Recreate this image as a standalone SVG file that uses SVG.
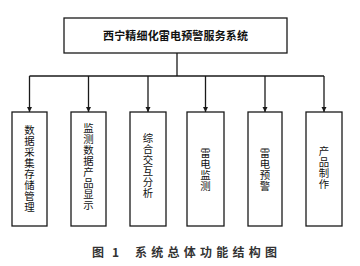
<svg xmlns="http://www.w3.org/2000/svg" width="360" height="266" viewBox="0 0 360 266">
<style>
.box{fill:#fff;stroke:#1a1a1a;stroke-width:1.3}
.ln{fill:none;stroke:#1a1a1a;stroke-width:1.3}
.t{font-family:"Noto Sans CJK SC","Noto Sans CJK JP",sans-serif;font-size:11px;fill:#111}
.v{writing-mode:vertical-rl;text-orientation:upright;text-anchor:middle;font-size:10.4px;letter-spacing:0.6px}
.cap{font-family:"Noto Sans CJK SC",sans-serif;font-size:12px;font-weight:bold;fill:#333}
</style>
<defs>
<marker id="ah" viewBox="0 0 10 10" refX="10" refY="5" markerWidth="5" markerHeight="6" markerUnits="userSpaceOnUse" orient="auto">
<path d="M0,0 L10,5 L0,10 Z" fill="#1a1a1a"/>
</marker>
</defs>
<rect width="360" height="266" fill="#fff"/>
<g id="connectors">
<line class="ln" x1="177" y1="53" x2="177" y2="76"/>
<line class="ln" x1="29.5" y1="76" x2="324" y2="76"/>
<line class="ln" x1="29.5" y1="76" x2="29.5" y2="112" marker-end="url(#ah)"/>
<line class="ln" x1="88.5" y1="76" x2="88.5" y2="112" marker-end="url(#ah)"/>
<line class="ln" x1="148" y1="76" x2="148" y2="112" marker-end="url(#ah)"/>
<line class="ln" x1="205.5" y1="76" x2="205.5" y2="112" marker-end="url(#ah)"/>
<line class="ln" x1="265" y1="76" x2="265" y2="112" marker-end="url(#ah)"/>
<line class="ln" x1="324" y1="76" x2="324" y2="112" marker-end="url(#ah)"/>
</g>
<g id="root">
<rect class="box" x="64" y="18" width="223" height="35"/>
<text class="t" x="175.5" y="40" text-anchor="middle" textLength="145" font-weight="bold">西宁精细化雷电预警服务系统</text>
</g>
<g id="n1">
<rect class="box" x="12" y="112" width="35" height="114"/>
<text class="t v" x="29.5" y="168.5">数据采集存储管理</text>
</g>
<g id="n2">
<rect class="box" x="71" y="112" width="35" height="114"/>
<text class="t v" x="88.5" y="166.5">监测数据产品显示</text>
</g>
<g id="n3">
<rect class="box" x="130" y="112" width="36" height="114"/>
<text class="t v" x="148" y="165.5">综合交互分析</text>
</g>
<g id="n4">
<rect class="box" x="187" y="112" width="37" height="114"/>
<text class="t v" x="205.5" y="169.5">雷电监测</text>
</g>
<g id="n5">
<rect class="box" x="248" y="112" width="34" height="114"/>
<text class="t v" x="265" y="170">雷电预警</text>
</g>
<g id="n6">
<rect class="box" x="306" y="112" width="36" height="114"/>
<text class="t v" x="324" y="167.5">产品制作</text>
</g>
<text class="cap" x="92" y="257">图</text>
<text class="cap" x="112" y="257">1</text>
<text class="cap" x="135" y="257" textLength="142">系统总体功能结构图</text>
</svg>
